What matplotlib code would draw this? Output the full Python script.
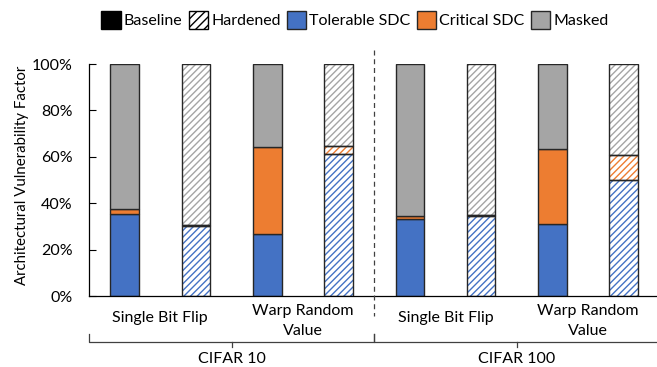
import matplotlib
matplotlib.use("Agg")
import matplotlib.pyplot as plt
from matplotlib.patches import Patch
from matplotlib.transforms import blended_transform_factory
from matplotlib.ticker import PercentFormatter

plt.rcParams['font.family'] = ['Lato', 'DejaVu Sans']
plt.rcParams['hatch.linewidth'] = 1.0

# 数据：每根柱子的三段（%）
datasets = ['CIFAR 10', 'CIFAR 100']
fault_models = ['Single Bit Flip', 'Warp Random\nValue']
variants = ['Baseline', 'Hardened', 'Baseline', 'Hardened',
            'Baseline', 'Hardened', 'Baseline', 'Hardened']
tolerable = [35.3, 30.0, 26.7, 61.1, 33.3, 34.5, 31.0, 50.0]
critical = [2.1, 0.6, 37.4, 3.7, 1.3, 0.2, 32.2, 10.6]
masked = [62.6, 69.4, 35.9, 35.2, 65.4, 65.3, 36.8, 39.4]

c_tol = '#4472C4'
c_crit = '#ED7D31'
c_mask = '#A5A5A5'
edge = '#262626'
hatch = '/////'

fig = plt.figure(figsize=(6.57, 3.67), dpi=100)
ax = fig.add_axes([89 / 657, 1 - 296 / 367, 1 - 89 / 657, (296 - 64) / 367])

x = list(range(len(variants)))
w = 0.4
for i in x:
    bottom = 0
    for val, col in [(tolerable[i], c_tol), (critical[i], c_crit), (masked[i], c_mask)]:
        if variants[i] == 'Hardened':
            ax.bar(i, val, w, bottom=bottom, facecolor='white', edgecolor=col,
                   hatch=hatch, linewidth=0, zorder=2)
            ax.bar(i, val, w, bottom=bottom, fill=False, edgecolor=edge,
                   linewidth=1.0, zorder=3)
        else:
            ax.bar(i, val, w, bottom=bottom, color=col, edgecolor=edge,
                   linewidth=1.0, zorder=2)
        bottom += val

ax.set_xlim(-0.5, -0.5 + (657 - 89) / 71.3)
ax.set_ylim(0, 100)
ax.yaxis.set_major_formatter(PercentFormatter(decimals=0))
ax.set_yticks([0, 20, 40, 60, 80, 100])
ax.set_xticks([])
ax.tick_params(axis='y', direction='in', length=5, pad=12, labelsize=11.5, width=0.8)
for s in ['top', 'right']:
    ax.spines[s].set_visible(False)
ax.spines['left'].set_linewidth(0.9)
ax.spines['bottom'].set_linewidth(0.9)

# 数据集之间的虚线
ax.plot([3.5, 3.5], [106, -8.5], ls=(0, (4, 3)), color='#404040', lw=0.9,
        clip_on=False, zorder=4)

# 故障模型标签和大括号
tr = blended_transform_factory(ax.transData, fig.transFigure)
for g in range(2):
    base = g * 4
    ax.text(base + 0.5, 1 - 318 / 367, fault_models[0], transform=tr,
            ha='center', va='center', fontsize=11.5)
    ax.text(base + 2.5, 1 - 321 / 367, fault_models[1], transform=tr,
            ha='center', va='center', fontsize=11.5, linespacing=1.6)
    x0, x1 = base - 0.5, base + 3.5
    xm = (x0 + x1) / 2
    yl, yu, yd = 1 - 342 / 367, 1 - 334 / 367, 1 - 347 / 367
    ax.plot([x0, x0, x1, x1], [yu, yl, yl, yu], transform=tr, color='#404040',
            lw=0.9, clip_on=False)
    ax.plot([xm, xm], [yl, yd], transform=tr, color='#404040', lw=0.9, clip_on=False)
    ax.text(xm, 1 - 359 / 367, datasets[g], transform=tr, ha='center',
            va='center', fontsize=11.5)

fig.text(22 / 657, 1 - 175 / 367, 'Architectural Vulnerability Factor',
         rotation=90, ha='center', va='center', fontsize=10.8)

handles = [
    Patch(facecolor='black', edgecolor='black'),
    Patch(facecolor='white', edgecolor='black', hatch='////'),
    Patch(facecolor=c_tol, edgecolor=edge),
    Patch(facecolor=c_crit, edgecolor=edge),
    Patch(facecolor=c_mask, edgecolor=edge),
]
labels = ['Baseline', 'Hardened', 'Tolerable SDC', 'Critical SDC', 'Masked']
fig.legend(handles, labels, loc='center', bbox_to_anchor=(355 / 657, 1 - 20 / 367),
           ncol=5, frameon=False, fontsize=11.5, handlelength=1.2, handleheight=1.4,
           handletextpad=0.2, columnspacing=0.4, borderaxespad=0, borderpad=0)

fig.savefig('out.png', dpi=100)
